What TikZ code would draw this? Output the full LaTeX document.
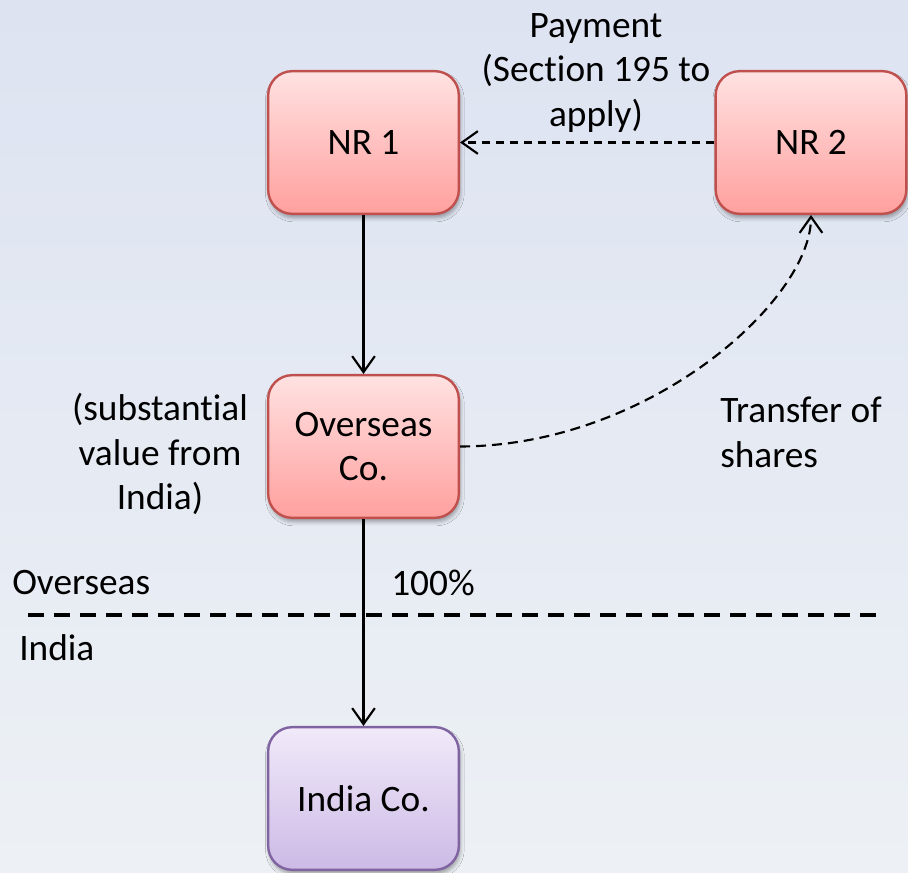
\documentclass[tikz,border=0pt]{standalone}
\usepackage{fontspec}
\setmainfont{Carlito}[Ligatures={NoCommon}]
\usetikzlibrary{arrows.meta,shadows.blur}

\definecolor{bgtop}{RGB}{221,227,241}
\definecolor{bgbot}{RGB}{237,241,245}
\definecolor{redborder}{RGB}{192,80,77}
\definecolor{redtop}{RGB}{255,226,226}
\definecolor{redbot}{RGB}{255,160,158}
\definecolor{purborder}{RGB}{128,100,162}
\definecolor{purtop}{RGB}{241,234,249}
\definecolor{purbot}{RGB}{204,186,230}

\tikzset{
  entity/.style={rectangle, rounded corners=18pt, minimum width=143pt,
    minimum height=107pt, line width=1.8pt, align=center,
    blur shadow={shadow xshift=1pt, shadow yshift=-3pt, shadow opacity=35,
      shadow blur radius=3pt}},
  foreign/.style={entity, draw=redborder, top color=redtop, bottom color=redbot},
  domestic/.style={entity, draw=purborder, top color=purtop, bottom color=purbot},
  flow/.style={-{Straight Barb[length=12pt,width=17pt]}, line width=1.6pt},
  payflow/.style={flow, dash pattern=on 6.5pt off 4pt},
  label/.style={align=center, inner sep=0pt},
}

\begin{document}
\begin{tikzpicture}[x=0.75pt, y=-0.75pt, font=\fontsize{28}{33.6}\selectfont]
  % page background
  \shade[top color=bgtop, bottom color=bgbot] (0,0) rectangle (908,873);
  \useasboundingbox (0,0) rectangle (908,873);

  % entities
  \node[foreign]  (nr1) at (363.5,142.5) {NR 1};
  \node[foreign]  (nr2) at (811,142.5)   {NR 2};
  \node[foreign]  (ov)  at (363.5,446.5) {Overseas\\Co.};
  \node[domestic] (in)  at (363.5,798.5) {India Co.};

  % jurisdiction divider
  \coordinate (divl) at (28,615);
  \coordinate (divr) at (884,615);
  \draw[line width=2.6pt, dash pattern=on 12pt off 7.5pt] (divl) -- (divr);

  % ownership and payment flows
  \draw[flow] (nr1) -- (ov);
  \draw[flow] (ov) -- (in);
  \draw[payflow] (nr2) -- (nr1);
  \draw[flow, dash pattern=on 7.5pt off 4.5pt]
    (ov.east) .. controls (650,446) and (811,300) .. (nr2.south);

  % labels
  \node[label] (paylbl) at (596,73) {Payment\\(Section 195 to\\apply)};
  \node[label] (sublbl) at (160,454) {(substantial\\value from\\India)};
  \node[label, align=left, anchor=west] (trlbl) at (720,432) {Transfer of\\shares};
  \node[label, anchor=west] (ovlbl) at (12,583) {Overseas};
  \node[label, anchor=west] (inlbl) at (19,648) {India};
  \node[label, anchor=west] (pclbl) at (391,583) {100\%};
\end{tikzpicture}
\end{document}
